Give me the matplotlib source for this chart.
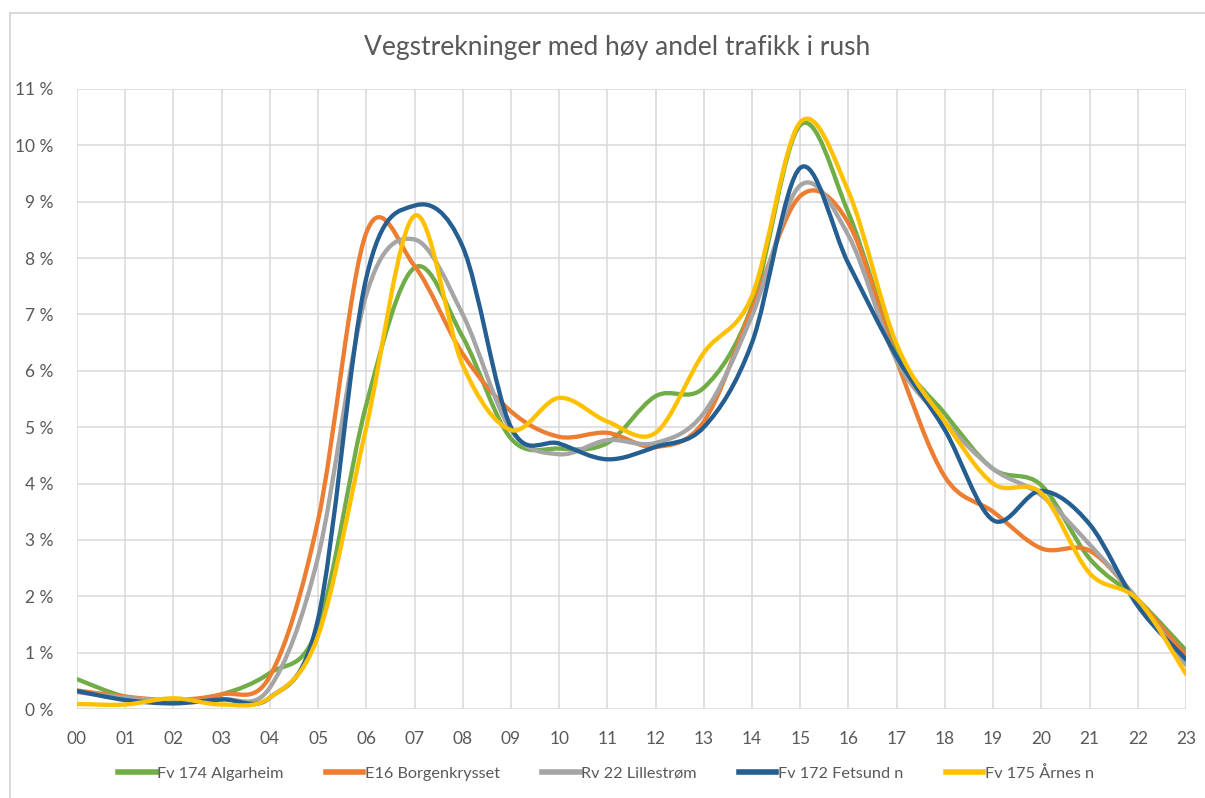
import matplotlib
matplotlib.use('Agg')
import matplotlib.pyplot as plt
from matplotlib.path import Path
from matplotlib.patches import PathPatch
from matplotlib.lines import Line2D

# Timer (x-akse)
hours = ["00", "01", "02", "03", "04", "05", "06", "07", "08", "09", "10", "11",
         "12", "13", "14", "15", "16", "17", "18", "19", "20", "21", "22", "23"]

# Andel trafikk per time (%), lest av bildet
fv174_algarheim = [0.53, 0.22, 0.15, 0.26, 0.64, 1.45, 5.4, 7.83, 6.6, 4.8, 4.62, 4.72,
                   5.55, 5.7, 7.15, 10.36, 8.8, 6.36, 5.24, 4.26, 3.97, 2.67, 1.94, 1.04]
e16_borgenkrysset = [0.33, 0.22, 0.16, 0.26, 0.58, 3.35, 8.45, 7.86, 6.3, 5.28, 4.83, 4.9,
                     4.65, 5.1, 7.1, 9.1, 8.62, 6.18, 4.12, 3.5, 2.85, 2.81, 1.94, 0.95]
rv22_lillestrom = [0.3, 0.2, 0.15, 0.17, 0.38, 2.7, 7.35, 8.33, 7.0, 4.95, 4.52, 4.77,
                   4.72, 5.25, 6.98, 9.29, 8.4, 6.18, 5.1, 4.26, 3.79, 2.92, 1.94, 0.78]
fv172_fetsund = [0.32, 0.16, 0.1, 0.17, 0.2, 1.6, 7.65, 8.93, 8.2, 5.0, 4.71, 4.43,
                 4.65, 5.0, 6.5, 9.6, 7.9, 6.25, 4.95, 3.35, 3.87, 3.28, 1.83, 0.88]
fv175_arnes = [0.09, 0.08, 0.19, 0.08, 0.2, 1.3, 5.0, 8.75, 6.1, 4.95, 5.52, 5.1,
               4.9, 6.32, 7.33, 10.41, 9.18, 6.47, 5.1, 4.0, 3.83, 2.41, 1.94, 0.62]

series_names = ["Fv 174 Algarheim", "E16 Borgenkrysset", "Rv 22 Lillestrøm",
                "Fv 172 Fetsund n", "Fv 175 Årnes n"]
series_values = [fv174_algarheim, e16_borgenkrysset, rv22_lillestrom,
                 fv172_fetsund, fv175_arnes]
colors = ["#70AD47", "#ED7D31", "#A5A5A5", "#255E91", "#FFC000"]

y_ticks = list(range(0, 12))

plt.rcParams['font.family'] = ['Lato', 'DejaVu Sans']


def smooth_path(xs, ys):
    # Glatt linje som i Excel: Bezier-kurver gjennom hvert datapunkt
    n = len(xs)
    verts = [(xs[0], ys[0])]
    codes = [Path.MOVETO]
    for i in range(n - 1):
        i0 = max(i - 1, 0)
        i3 = min(i + 2, n - 1)
        c1 = (xs[i] + (xs[i + 1] - xs[i0]) / 6, ys[i] + (ys[i + 1] - ys[i0]) / 6)
        c2 = (xs[i + 1] - (xs[i3] - xs[i]) / 6, ys[i + 1] - (ys[i3] - ys[i]) / 6)
        verts += [c1, c2, (xs[i + 1], ys[i + 1])]
        codes += [Path.CURVE4, Path.CURVE4, Path.CURVE4]
    return Path(verts, codes)


fig = plt.figure(figsize=(12.05, 7.98), dpi=100)
ax = fig.add_axes([0.0639, 0.1115, 0.9203, 0.777])

x = list(range(len(hours)))
handles = []
for name, vals, col in zip(series_names, series_values, colors):
    patch = PathPatch(smooth_path(x, vals), facecolor='none', edgecolor=col,
                      linewidth=3.1, capstyle='round', joinstyle='round', zorder=3)
    ax.add_patch(patch)
    handles.append(Line2D([], [], color=col, linewidth=4, label=name))

ax.set_xlim(0, len(hours) - 1)
ax.set_ylim(0, 11)
ax.set_xticks(x)
ax.set_xticklabels(hours)
ax.set_yticks(y_ticks)
ax.set_yticklabels([f"{v} %" for v in y_ticks])
ax.grid(True, color="#d9d9d9", linewidth=1.1)
ax.set_axisbelow(True)
for s in ax.spines.values():
    s.set_visible(False)
ax.tick_params(length=0, labelsize=12.5, colors="#595959")
ax.tick_params(axis='y', pad=17)
ax.tick_params(axis='x', pad=16)

fig.text(0.512, 0.941, "Vegstrekninger med høy andel trafikk i rush",
         ha='center', va='center', fontsize=19, color="#595959")

fig.legend(handles=handles, loc='center', bbox_to_anchor=(0.503, 0.031), ncol=5,
           frameon=False, fontsize=11.7, labelcolor="#595959", handlelength=2.3,
           handletextpad=0.1, columnspacing=2.6)

# ramme rundt diagrammet
fig.add_artist(Line2D([10 / 1205, 10 / 1205], [0, 1 - 13 / 798],
                      transform=fig.transFigure, color="#d9d9d9", linewidth=1.5))
fig.add_artist(Line2D([10 / 1205, 1], [1 - 13 / 798, 1 - 13 / 798],
                      transform=fig.transFigure, color="#d9d9d9", linewidth=1.5))

fig.savefig("out.png", dpi=100)
